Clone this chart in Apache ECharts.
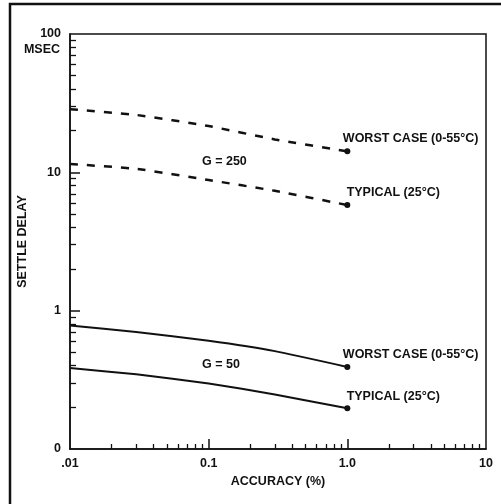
<!DOCTYPE html>
<html>
<head>
<meta charset="utf-8">
<script src="https://cdn.jsdelivr.net/npm/echarts@6/dist/echarts.min.js"></script>
<style>html,body{margin:0;padding:0;background:#fff;}#c{width:501px;height:504px;}</style>
</head>
<body>
<div id="c"></div>
<script>
// Data
const accuracy = [0.01, 0.03, 0.1, 0.3, 1.0];
const worst250 = [28.6, 26.0, 21.6, 17.3, 14.2];
const typical250 = [11.5, 10.6, 8.8, 7.35, 5.8];
const worst50 = [0.78, 0.70, 0.605, 0.51, 0.392];
const typical50 = [0.385, 0.347, 0.298, 0.248, 0.197];

const xMajorTicks = [0.01, 0.1, 1, 10];
const xTickLabels = ['.01', '0.1', '1.0', '10'];
const yMajorTicks = [0.1, 1, 10, 100];
const yTickLabels = ['0', '1', '10', '100'];
const seriesNames = ['WORST CASE (0-55°C)', 'TYPICAL (25°C)', 'WORST CASE (0-55°C)', 'TYPICAL (25°C)'];
const gainLabels = ['G = 250', 'G = 50'];

function minorTicks(lo, hi) {
  const out = [];
  for (let d = lo; d < hi; d *= 10) {
    for (let k = 2; k <= 9; k++) out.push(+(d * k).toPrecision(6));
  }
  return out;
}

const ink = '#111';
const font = 'Liberation Sans, Arial, Helvetica, sans-serif';

function pts(ys) { return accuracy.map((x, i) => [x, ys[i]]); }

function makeSeries(ys, name, dashed, lblOffset) {
  const last = ys.length - 1;
  const data = pts(ys).map((p, i) => {
    if (i !== last) return { value: p, symbol: 'none' };
    return {
      value: p, symbol: 'circle', symbolSize: 6,
      label: {
        show: true, formatter: name, position: lblOffset,
        align: 'left', verticalAlign: 'middle',
        color: ink, fontFamily: font, fontWeight: 'bold', fontSize: 12.5
      }
    };
  });
  return {
    type: 'line', data: data, smooth: 0.15, showAllSymbol: true,
    itemStyle: { color: ink },
    lineStyle: { color: ink, width: dashed ? 2.5 : 2, type: dashed ? [8, 9] : 'solid' },
    emphasis: { disabled: true }, silent: true, animation: false, z: 3
  };
}

const chart = echarts.init(document.getElementById('c'), null, { renderer: 'canvas' });
const axisCommon = {
  type: 'log', logBase: 10,
  axisLine: { show: true, lineStyle: { color: ink, width: 1.5 } },
  splitLine: { show: false }
};
chart.setOption({
  backgroundColor: '#fff',
  animation: false,
  grid: { left: 70, right: 15, top: 34, bottom: 55, show: true, borderColor: ink, borderWidth: 1.5, backgroundColor: 'transparent' },
  xAxis: [
    Object.assign({}, axisCommon, {
      min: 0.01, max: 10, position: 'bottom',
      name: 'ACCURACY (%)', nameLocation: 'middle', nameGap: 24,
      nameTextStyle: { color: ink, fontFamily: font, fontWeight: 'bold', fontSize: 12.5 },
      axisTick: { show: true, inside: true, length: 5, lineStyle: { color: ink, width: 1.3 }, customValues: minorTicks(0.01, 10) },
      axisLabel: {
        show: true, margin: 8, color: ink, fontFamily: font, fontWeight: 'bold', fontSize: 12.5,
        customValues: xMajorTicks,
        formatter: v => { const i = xMajorTicks.findIndex(t => Math.abs(Math.log10(t) - Math.log10(v)) < 1e-6); return i >= 0 ? xTickLabels[i] : ''; }
      }
    }),
    Object.assign({}, axisCommon, {
      min: 0.01, max: 10, position: 'bottom', axisLine: { show: false },
      axisTick: { show: true, inside: true, length: 10, lineStyle: { color: ink, width: 1.5 }, customValues: [0.1, 1] },
      axisLabel: { show: false }
    })
  ],
  yAxis: [
    Object.assign({}, axisCommon, {
      min: 0.1, max: 100, position: 'left',
      name: 'SETTLE DELAY', nameLocation: 'middle', nameGap: 27,
      nameTextStyle: { color: ink, fontFamily: font, fontWeight: 'bold', fontSize: 12.5 },
      axisTick: { show: true, inside: true, length: 6, lineStyle: { color: ink, width: 1.3 }, customValues: minorTicks(0.1, 100) },
      axisLabel: {
        show: true, margin: 9, color: ink, fontFamily: font, fontWeight: 'bold', fontSize: 12.5,
        customValues: yMajorTicks,
        formatter: v => { const i = yMajorTicks.findIndex(t => Math.abs(Math.log10(t) - Math.log10(v)) < 1e-6); return i >= 0 ? yTickLabels[i] : ''; }
      }
    }),
    Object.assign({}, axisCommon, {
      min: 0.1, max: 100, position: 'left', axisLine: { show: false },
      axisTick: { show: true, inside: true, length: 10, lineStyle: { color: ink, width: 1.5 }, customValues: [1, 10] },
      axisLabel: { show: false }
    })
  ],
  series: [
    makeSeries(worst250, seriesNames[0], true, [-1.5, -10]),
    makeSeries(typical250, seriesNames[1], true, [2.3, -10]),
    makeSeries(worst50, seriesNames[2], false, [-1.5, -9]),
    makeSeries(typical50, seriesNames[3], false, [2.3, -9])
  ],
  graphic: [
    { type: 'rect', shape: { x: 10, y: 4, width: 600, height: 600 }, style: { fill: 'none', stroke: ink, lineWidth: 2.5 }, silent: true },
    { type: 'text', x: 60, y: 50, style: { text: 'MSEC', fill: ink, font: 'bold 12.5px ' + font, align: 'right', verticalAlign: 'middle' } },
    { type: 'text', x: 202, y: 162, style: { text: gainLabels[0], fill: ink, font: 'bold 12.5px ' + font, align: 'left', verticalAlign: 'middle' } },
    { type: 'text', x: 202, y: 365, style: { text: gainLabels[1], fill: ink, font: 'bold 12.5px ' + font, align: 'left', verticalAlign: 'middle' } }
  ]
});
</script>
</body>
</html>
